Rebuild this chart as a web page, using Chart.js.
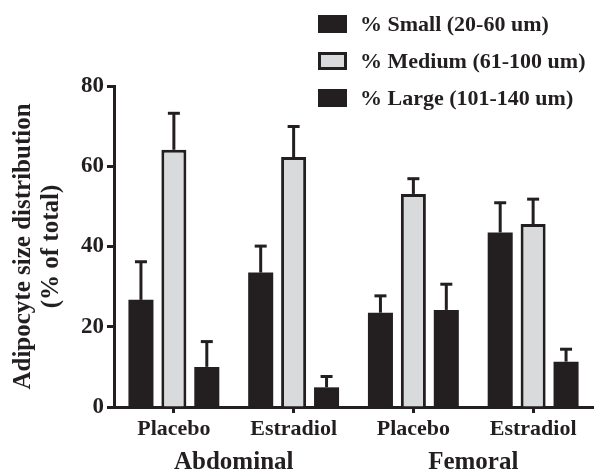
<!DOCTYPE html>
<html>
<head>
<meta charset="utf-8">
<script src="https://cdn.jsdelivr.net/npm/chart.js@4/dist/chart.umd.min.js"></script>
<style>
  html, body { margin: 0; padding: 0; background: #fff; }
  #wrap { width: 600px; height: 470px; }
</style>
</head>
<body>
<div id="wrap"><canvas id="adipoChart"></canvas></div>
<script>
const treatments = ['Placebo', 'Estradiol', 'Placebo', 'Estradiol'];
const regions = ['Abdominal', 'Femoral'];
const yTicks = [0, 20, 40, 60, 80];

const seriesNames = ['% Small (20-60 um)', '% Medium (61-100 um)', '% Large (101-140 um)'];
const smallMean = [26.7, 33.5, 23.5, 43.5];
const smallSem = [9.5, 6.6, 4.2, 7.4];
const mediumMean = [64.1, 62.3, 53.1, 45.6];
const mediumSem = [9.1, 7.6, 3.8, 6.2];
const largeMean = [10.0, 4.9, 24.2, 11.3];
const largeSem = [6.3, 2.7, 6.4, 3.1];

const ink = '#231f20';
const grey = '#d9dadc';
const font = "'Liberation Serif', 'Times New Roman', serif";

// error bars (mean + SEM, upper only)
const errorBars = {
    id: 'errorBars',
    afterDatasetsDraw(chart) {
        const ctx = chart.ctx;
        const y = chart.scales.y;
        ctx.save();
        ctx.strokeStyle = ink;
        chart.data.datasets.forEach((ds, i) => {
            const meta = chart.getDatasetMeta(i);
            meta.data.forEach((bar, j) => {
                const top = y.getPixelForValue(ds.data[j] + ds.sem[j]);
                ctx.lineWidth = 3;
                ctx.beginPath();
                ctx.moveTo(bar.x, bar.y);
                ctx.lineTo(bar.x, top);
                ctx.stroke();
                ctx.beginPath();
                ctx.moveTo(bar.x - 6, top);
                ctx.lineTo(bar.x + 6, top);
                ctx.stroke();
            });
        });
        ctx.restore();
    }
};

// legend in the top right corner
const sideLegend = {
    id: 'sideLegend',
    afterDraw(chart) {
        const ctx = chart.ctx;
        ctx.save();
        ctx.font = 'bold 22px ' + font;
        ctx.textBaseline = 'middle';
        chart.data.datasets.forEach((ds, i) => {
            const cy = 24 + i * 37;
            ctx.fillStyle = ds.backgroundColor;
            ctx.fillRect(318, cy - 9, 29, 18);
            if (ds.borderWidth) {
                ctx.strokeStyle = ink;
                ctx.lineWidth = 3;
                ctx.strokeRect(319.5, cy - 7.5, 26, 15);
            }
            ctx.fillStyle = ink;
            ctx.fillText(ds.label, 360, cy + 1);
        });
        ctx.restore();
    }
};

const ctx = document.getElementById('adipoChart').getContext('2d');
new Chart(ctx, {
    type: 'bar',
    data: {
        labels: treatments,
        datasets: [
            { label: seriesNames[0], data: smallMean, sem: smallSem, backgroundColor: ink, borderWidth: 0 },
            { label: seriesNames[1], data: mediumMean, sem: mediumSem, backgroundColor: grey, borderColor: ink, borderWidth: 3 },
            { label: seriesNames[2], data: largeMean, sem: largeSem, backgroundColor: ink, borderWidth: 0 }
        ]
    },
    options: {
        responsive: true,
        maintainAspectRatio: false,
        animation: false,
        categoryPercentage: 0.825,
        barPercentage: 0.76,
        layout: { padding: { top: 86, right: 7, left: 10, bottom: -10 } },
        plugins: {
            legend: { display: false },
            tooltip: { enabled: false }
        },
        scales: {
            x: {
                grid: { display: true, drawOnChartArea: false, offset: false, tickLength: 6, tickWidth: 3, tickColor: ink },
                border: { display: true, color: ink, width: 3 },
                ticks: { color: ink, font: { family: font, size: 22, weight: 'bold', lineHeight: 1.0 }, padding: 5 }
            },
            x2: {
                type: 'category',
                labels: regions,
                position: 'bottom',
                grid: { display: false, drawTicks: false },
                border: { display: false },
                ticks: { color: ink, font: { family: font, size: 25, weight: 'bold', lineHeight: 1.0 }, padding: 5 }
            },
            y: {
                min: 0,
                max: 80,
                afterBuildTicks: axis => { axis.ticks = yTicks.map(v => ({ value: v })); },
                grid: { display: true, drawOnChartArea: false, tickLength: 7, tickWidth: 3, tickColor: ink },
                border: { display: true, color: ink, width: 3 },
                ticks: { color: ink, font: { family: font, size: 23, weight: 'bold' }, padding: 3 },
                title: {
                    display: true,
                    text: ['Adipocyte size distribution', '(% of total)'],
                    color: ink,
                    font: { family: font, size: 25, weight: 'bold', lineHeight: 1.1 },
                    padding: { top: 0, bottom: 13 }
                }
            }
        }
    },
    plugins: [errorBars, sideLegend]
});
</script>
</body>
</html>
